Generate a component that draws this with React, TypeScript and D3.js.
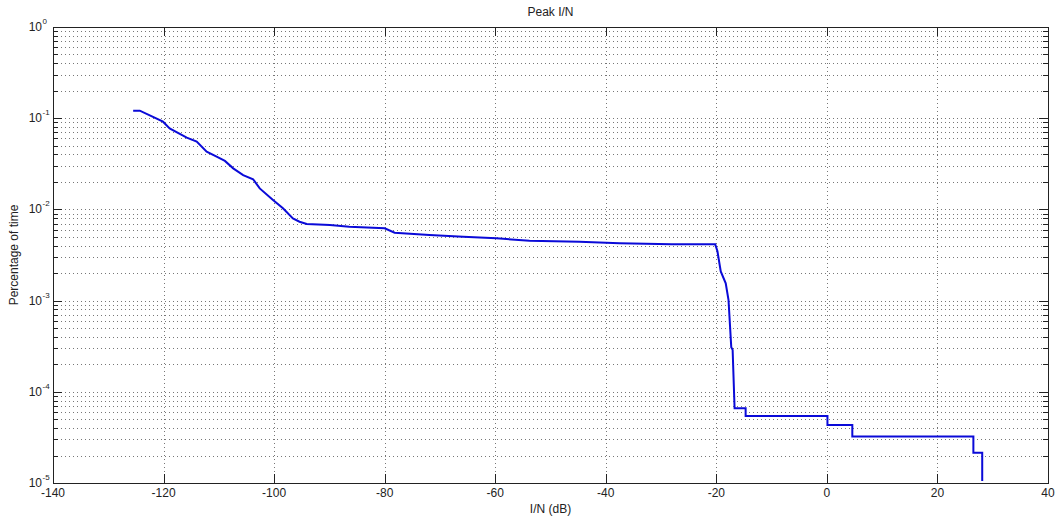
import React from "react";
import * as d3 from "d3";

const inDb = [
  -125.5, -124.3, -120.1, -118.9, -115.8, -114.0, -112.2, -110.4, -108.9, -107.4,
  -105.6, -103.8, -102.6, -100.2, -98.4, -96.6, -95.4, -94.1, -89.9, -86.4,
  -80.0, -78.2, -71.9, -65.8, -59.8, -53.8, -44.8, -37.5, -28.1, -20.2,
  -19.8, -19.2, -18.3, -17.8, -17.3, -17.05, -16.7, -14.7, -14.7, 0.1,
  0.1, 4.6, 4.6, 26.5, 26.5, 28.1, 28.1,
];
const pctTime = [
  0.121, 0.121, 0.0916, 0.0774, 0.0611, 0.0553, 0.043, 0.0378, 0.034, 0.0282,
  0.0238, 0.0214, 0.017, 0.0127, 0.0103, 0.00798, 0.00733, 0.00692, 0.00675, 0.00646,
  0.00621, 0.00556, 0.00525, 0.00501, 0.00482, 0.00454, 0.00443, 0.00425, 0.00414, 0.00414,
  0.00347, 0.00209, 0.00155, 0.00102, 0.000309, 0.000288, 6.6e-5, 6.6e-5, 5.43e-5, 5.43e-5,
  4.33e-5, 4.33e-5, 3.24e-5, 3.24e-5, 2.15e-5, 2.15e-5, 1.05e-5,
];
const xTicks = [-140, -120, -100, -80, -60, -40, -20, 0, 20, 40];
const yExponents = [0, -1, -2, -3, -4, -5];

const W = 1055;
const H = 518;
const L = 53;
const R = 1048;
const T = 27;
const B = 483;
const FONT = "'Liberation Sans', Arial, sans-serif";

export default function App() {
  const x = d3.scaleLinear().domain([-140, 40]).range([L, R]);
  const y = d3.scaleLog().domain([1e-5, 1]).range([B, T]);

  const minor: number[] = [];
  for (let e = -5; e < 0; e++) {
    for (let m = 2; m <= 9; m++) minor.push(m * Math.pow(10, e));
  }
  const majors = yExponents.map((e) => Math.pow(10, e));

  const data = inDb.map((v, i) => [v, pctTime[i]] as [number, number]);
  const line = d3
    .line<[number, number]>()
    .x((d) => x(d[0]))
    .y((d) => y(d[1]));

  const gridStyle = { stroke: "#777", strokeWidth: 1, strokeDasharray: "1,3" };

  return (
    <svg
      width={W}
      height={H}
      style={{ position: "absolute", left: 0, top: 0, background: "#fff" }}
      fontFamily={FONT}
    >
      <rect x={0} y={0} width={W} height={H} fill="#fff" />
      {/* horizontal grid */}
      {[...minor, ...majors].map((v, i) => (
        <line key={"hg" + i} x1={L} x2={R} y1={Math.round(y(v)) + 0.5} y2={Math.round(y(v)) + 0.5} {...gridStyle} />
      ))}
      {/* vertical grid */}
      {xTicks.map((v, i) => (
        <line key={"vg" + i} x1={Math.round(x(v)) + 0.5} x2={Math.round(x(v)) + 0.5} y1={T} y2={B} {...gridStyle} />
      ))}
      {/* ticks */}
      {xTicks.map((v, i) => {
        const px = Math.round(x(v)) + 0.5;
        return (
          <g key={"xt" + i} stroke="#222" strokeWidth={1}>
            <line x1={px} x2={px} y1={B} y2={B - 9} />
            <line x1={px} x2={px} y1={T} y2={T + 9} />
          </g>
        );
      })}
      {majors.map((v, i) => {
        const py = Math.round(y(v)) + 0.5;
        return (
          <g key={"ymt" + i} stroke="#222" strokeWidth={1}>
            <line x1={L} x2={L + 9} y1={py} y2={py} />
            <line x1={R} x2={R - 9} y1={py} y2={py} />
          </g>
        );
      })}
      {minor.map((v, i) => {
        const py = Math.round(y(v)) + 0.5;
        return (
          <g key={"ynt" + i} stroke="#222" strokeWidth={1}>
            <line x1={L} x2={L + 5} y1={py} y2={py} />
            <line x1={R} x2={R - 5} y1={py} y2={py} />
          </g>
        );
      })}
      {/* axes box */}
      <rect x={L + 0.5} y={T + 0.5} width={R - L} height={B - T} fill="none" stroke="#222" strokeWidth={1} />
      {/* curve */}
      <path d={line(data) || ""} fill="none" stroke="#0a0ad8" strokeWidth={2} strokeLinejoin="miter" />
      {/* x tick labels */}
      {xTicks.map((v, i) => (
        <text key={"xl" + i} x={x(v)} y={497} textAnchor="middle" fontSize={12} fill="#222">
          {String(v)}
        </text>
      ))}
      {/* y tick labels */}
      {yExponents.map((e, i) => {
        const py = y(Math.pow(10, e));
        return (
          <g key={"yl" + i} fill="#222">
            <text x={42} y={py + 4} textAnchor="end" fontSize={12}>
              10
            </text>
            <text x={42.5} y={py - 3} textAnchor="start" fontSize={8}>
              {String(e)}
            </text>
          </g>
        );
      })}
      {/* titles */}
      <text x={(L + R) / 2} y={16} textAnchor="middle" fontSize={12} fill="#222">
        Peak I/N
      </text>
      <text x={(L + R) / 2} y={513} textAnchor="middle" fontSize={12} fill="#222">
        I/N (dB)
      </text>
      <text
        transform={`translate(18,${(T + B) / 2}) rotate(-90)`}
        textAnchor="middle"
        fontSize={12}
        fill="#222"
      >
        Percentage of time
      </text>
    </svg>
  );
}
